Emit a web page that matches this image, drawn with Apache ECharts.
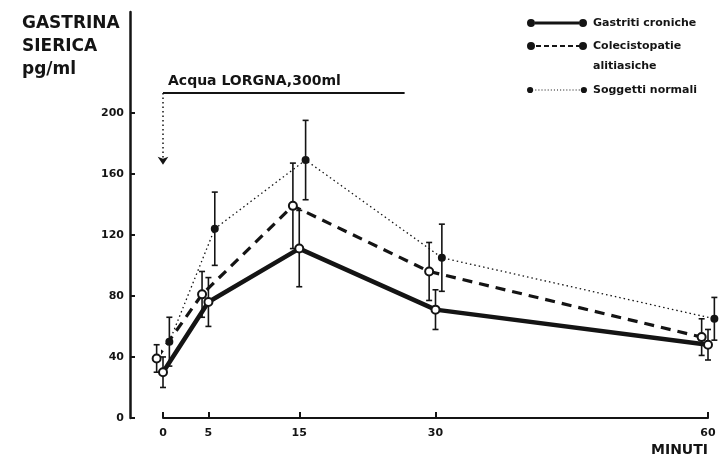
<!DOCTYPE html>
<html>
<head>
<meta charset="utf-8">
<script src="https://cdn.jsdelivr.net/npm/echarts@6/dist/echarts.min.js"></script>
<style>
  html, body { margin: 0; padding: 0; background: #fff; }
  #chart { width: 719px; height: 462px; }
</style>
</head>
<body>
<div id="chart"></div>
<script>
// tempi di prelievo (minuti)
const times = [0, 5, 15, 30, 60]
const xTicks = [0, 5, 15, 30, 60]
const yTicks = [0, 40, 80, 120, 160, 200]

// gastrina sierica, pg/ml (media ± errore)
const gastriti = [30, 76, 111, 71, 48]
const gastritiErr = [10, 16, 25, 13, 10]
const colecist = [39, 81, 139, 96, 53]
const colecistErr = [9, 15, 28, 19, 12]
const normali = [50, 124, 169, 105, 65]
const normaliErr = [16, 24, 26, 22, 14]

const names = ['Gastriti croniche', 'Colecistopatie', 'Soggetti normali']

// somministrazione acqua
const waterLabel = 'Acqua LORGNA,300ml'
const waterStart = 0
const waterEnd = 26.6
const waterLevel = 213
const arrowTip = 166

const ink = '#141414'
const font = 'DejaVu Sans'

let chart = echarts.init(document.getElementById('chart'))

// icona legenda: cerchio - tratto - cerchio
function iconPath(kind) {
  let r = kind === 'dotted' ? 3 : 4
  let circle = cx => `M${cx - r},4A${r},${r} 0 1,1 ${cx + r},4A${r},${r} 0 1,1 ${cx - r},4Z`
  let p = circle(4) + circle(56)
  if (kind === 'solid') {
    p += 'M8,2.6L52,2.6L52,5.4L8,5.4Z'
  } else if (kind === 'dashed') {
    for (let x = 9; x < 50; x += 8) p += `M${x},3L${x + 5},3L${x + 5},5L${x},5Z`
  } else {
    for (let x = 9; x < 52; x += 3) p += `M${x},3.5L${x + 1},3.5L${x + 1},4.5L${x},4.5Z`
  }
  return 'path://' + p
}

function lineSeries(name, vals, shift, lineStyle, symbol, symbolSize) {
  return {
    type: 'line',
    name: name,
    clip: false,
    z: 3,
    data: times.map((t, i) => [t + shift, vals[i]]),
    symbol: symbol,
    symbolSize: symbolSize,
    itemStyle: { color: ink, borderColor: ink, borderWidth: 2 },
    lineStyle: Object.assign({ color: ink }, lineStyle)
  }
}

function errorSeries(vals, errs, shift) {
  return {
    type: 'custom',
    name: 'err',
    silent: true,
    clip: false,
    z: 2,
    data: times.map((t, i) => [t + shift, vals[i] - errs[i], vals[i] + errs[i]]),
    renderItem: function (params, api) {
      let lo = api.coord([api.value(0), api.value(1)])
      let hi = api.coord([api.value(0), api.value(2)])
      let st = { stroke: ink, lineWidth: 1.6 }
      return {
        type: 'group',
        children: [
          { type: 'line', shape: { x1: lo[0], y1: lo[1], x2: hi[0], y2: hi[1] }, style: st },
          { type: 'line', shape: { x1: lo[0] - 3, y1: lo[1], x2: lo[0] + 3, y2: lo[1] }, style: st },
          { type: 'line', shape: { x1: hi[0] - 3, y1: hi[1], x2: hi[0] + 3, y2: hi[1] }, style: st }
        ]
      }
    }
  }
}

let legendText = { color: ink, fontFamily: font, fontWeight: 'bold', fontSize: 11, lineHeight: 22, padding: [0, 0, 0, 1] }

let option = {
  backgroundColor: '#fff',
  animation: false,
  title: {
    text: 'GASTRINA\nSIERICA\npg/ml',
    left: 22,
    top: 12,
    padding: 0,
    textStyle: { color: ink, fontFamily: font, fontWeight: 'bold', fontSize: 17, lineHeight: 23 }
  },
  legend: [
    {
      orient: 'vertical', left: 522, top: 7, itemGap: 1, itemWidth: 60, itemHeight: 8,
      itemStyle: { color: ink, borderWidth: 0 },
      data: [
        { name: names[0], icon: iconPath('solid') },
        { name: names[1], icon: iconPath('dashed') }
      ],
      textStyle: legendText,
      selectedMode: false
    },
    {
      orient: 'vertical', left: 522, top: 74, itemWidth: 60, itemHeight: 8,
      itemStyle: { color: ink, borderWidth: 0 },
      data: [{ name: names[2], icon: iconPath('dotted') }],
      textStyle: legendText,
      selectedMode: false
    }
  ],
  graphic: [
    {
      type: 'text', left: 593, top: 61,
      style: { text: 'alitiasiche', fill: ink, font: 'bold 11px "DejaVu Sans"' }
    }
  ],
  grid: { left: 163, right: 11, top: 12, bottom: 44 },
  xAxis: {
    type: 'value',
    min: 0,
    max: 60,
    name: 'MINUTI',
    nameLocation: 'end',
    nameGap: 0,
    nameTextStyle: { color: ink, fontFamily: font, fontWeight: 'bold', fontSize: 14, align: 'right', verticalAlign: 'top', padding: [25, 0, 0, 0] },
    splitLine: { show: false },
    axisLine: { lineStyle: { color: ink, width: 2 } },
    axisTick: { inside: true, length: 6, customValues: xTicks, lineStyle: { color: ink, width: 2 } },
    axisLabel: { customValues: xTicks, margin: 10, color: ink, fontFamily: font, fontWeight: 'bold', fontSize: 11 }
  },
  yAxis: {
    type: 'value',
    min: 0,
    max: 266,
    offset: 33,
    splitLine: { show: false },
    axisLine: { show: true, onZero: false, lineStyle: { color: ink, width: 2.5 } },
    axisTick: { show: true, inside: true, length: 5, customValues: yTicks, lineStyle: { color: ink, width: 2 } },
    axisLabel: { customValues: yTicks, margin: 6, color: ink, fontFamily: font, fontWeight: 'bold', fontSize: 11 }
  },
  series: [
    errorSeries(gastriti, gastritiErr, 0),
    errorSeries(colecist, colecistErr, -0.7),
    errorSeries(normali, normaliErr, 0.7),
    lineSeries(names[0], gastriti, 0, { width: 4.5 }, 'emptyCircle', 8),
    lineSeries(names[1], colecist, -0.7, { width: 3.2, type: [10, 7] }, 'emptyCircle', 8),
    Object.assign(lineSeries(names[2], normali, 0.7, { width: 1.3, type: [1.5, 3] }, 'circle', 6), {
      markLine: {
        silent: true,
        symbol: ['none', 'none'],
        data: [
          [
            {
              coord: [waterStart, waterLevel],
              lineStyle: { type: 'solid', width: 2, color: ink },
              label: {
                show: true, formatter: waterLabel, position: 'insideStartTop', distance: 5,
                color: ink, fontFamily: font, fontWeight: 'bold', fontSize: 14
              }
            },
            { coord: [waterEnd, waterLevel] }
          ],
          [
            { coord: [waterStart, waterLevel], lineStyle: { type: [1.5, 3], width: 1.5, color: ink }, label: { show: false } },
            { coord: [waterStart, arrowTip], symbol: 'arrow', symbolSize: 8, symbolRotate: 180 }
          ]
        ]
      }
    })
  ]
}

chart.setOption(option)
</script>
</body>
</html>
